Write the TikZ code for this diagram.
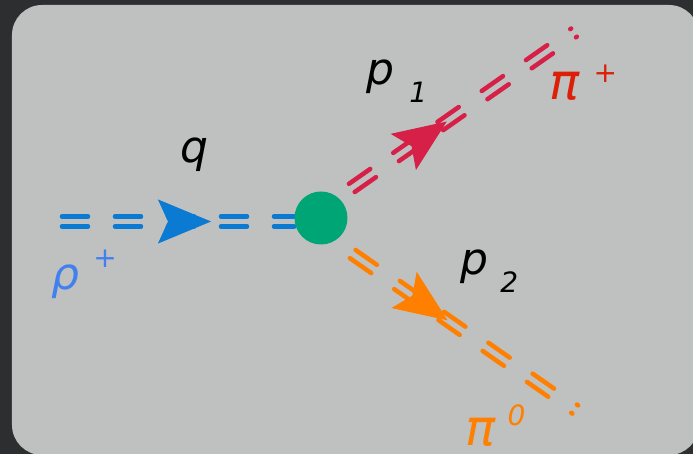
\documentclass[tikz,border=0pt]{standalone}
\usepackage{fontspec}
\setmainfont{DejaVu Sans}
\usetikzlibrary{calc,positioning,backgrounds,arrows.meta,decorations.markings}
\definecolor{slate}{RGB}{44,46,48}
\definecolor{panel}{RGB}{191,192,192}
\definecolor{rhoblue}{RGB}{10,122,210}
\definecolor{rholabel}{RGB}{66,128,240}
\definecolor{pired}{RGB}{214,32,72}
\definecolor{pilabel}{RGB}{220,32,8}
\definecolor{piorange}{RGB}{255,128,0}
\definecolor{vertgreen}{RGB}{0,165,117}
\newcommand{\lowidx}[1]{\raisebox{-9pt}{\fontsize{14}{14}\selectfont #1}}
\newcommand{\upidx}[2]{\raisebox{#1}{\fontsize{14}{14}\selectfont #2}}

\begin{document}
\begin{tikzpicture}[x=0.5pt, y=-0.5pt,
    every node/.style={font=\fontsize{22}{26}\selectfont\itshape, inner sep=0pt},
    meson/.style={line width=2.25pt, line cap=round},
    tip/.style 2 args={decorate, decoration={markings, mark=at position #2 with {\arrow[#1]{Stealth[length=26.5pt, width=22pt, inset=5pt]}}}}]
    \useasboundingbox (0,0) rectangle (693,454);
    \node[circle, fill=vertgreen, minimum size=26.5pt] (v) at (321,218) {};
    \coordinate (rho) at (62,221.5);
    \coordinate (pip) at (574,32.6);
    \coordinate (pio) at (575.2,409.5);
    \begin{scope}[on background layer]
        \fill[slate] (0,0) rectangle (693,454);
        \fill[panel, rounded corners=15pt] (12,5) rectangle (699,455);
        % rho+ line
        \draw[meson, rhoblue, dash pattern=on 13pt off 13.5pt] ($(rho)+(0,-5)$) -- ($(rho -| v.west)+(0,-5)$);
        \draw[meson, rhoblue, dash pattern=on 13pt off 13.5pt] ($(rho)+(0,5)$) -- ($(rho -| v.west)+(0,5)$);
        \path[tip={rhoblue}{74.5pt}] (rho) -- (rho -| v.west);
        % pi+ line
        \draw[meson, pired, dash pattern=on 13pt off 14pt, dash phase=18.75pt] ($(v.50)!2.5pt!90:(pip)$) -- ($(pip)!2.5pt!-90:(v.50)$);
        \draw[meson, pired, dash pattern=on 13pt off 14pt, dash phase=18.75pt] ($(v.50)!2.5pt!-90:(pip)$) -- ($(pip)!2.5pt!90:(v.50)$);
        \path[tip={pired}{66.2pt}] (v.50) -- (pip);
        % pi0 line
        \draw[meson, piorange, dash pattern=on 13pt off 14pt, dash phase=15.85pt] ($(v.-60)!2.5pt!90:(pio)$) -- ($(pio)!2.5pt!-90:(v.-60)$);
        \draw[meson, piorange, dash pattern=on 13pt off 14pt, dash phase=15.85pt] ($(v.-60)!2.5pt!-90:(pio)$) -- ($(pio)!2.5pt!90:(v.-60)$);
        \path[tip={piorange}{69pt}] (v.-60) -- (pio);
    \end{scope}
    \node[anchor=base west] (lq) at (180,163) {q};
    \node[anchor=base west] (lp1) at (366,85) {p\hspace{7.5pt}\lowidx{1}};
    \node[anchor=base west] (lp2) at (460,275) {p\hspace{6pt}\lowidx{2}};
    \node[anchor=base west, text=rholabel] (lrho) at (51,290) {ρ\hspace{7pt}\upidx{11pt}{+}};
    \node[anchor=base west, text=pilabel] (lpip) at (549,100) {\fontsize{25}{26}\selectfont π\hspace{7pt}\upidx{8.5pt}{+}};
    \node[anchor=base west, text=piorange] (lpio) at (465,446) {\fontsize{25}{26}\selectfont π\hspace{6pt}\upidx{10pt}{0}};
\end{tikzpicture}
\end{document}
